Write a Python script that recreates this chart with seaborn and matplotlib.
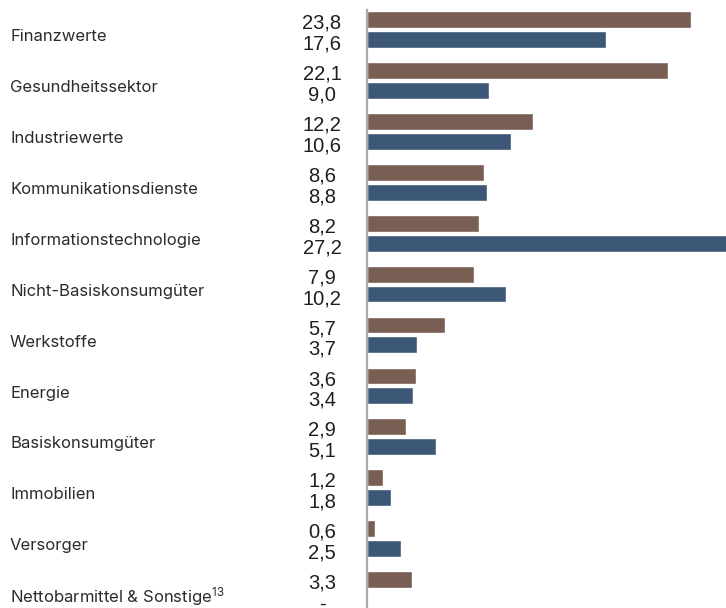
import numpy as np
import pandas as pd
import matplotlib.pyplot as plt
import matplotlib.transforms as mtransforms
import seaborn as sns

# sector weights (%), fund vs. benchmark
sectors = ['Finanzwerte', 'Gesundheitssektor', 'Industriewerte', 'Kommunikationsdienste',
           'Informationstechnologie', 'Nicht-Basiskonsumgüter', 'Werkstoffe', 'Energie',
           'Basiskonsumgüter', 'Immobilien', 'Versorger', 'Nettobarmittel & Sonstige']
fund = [23.8, 22.1, 12.2, 8.6, 8.2, 7.9, 5.7, 3.6, 2.9, 1.2, 0.6, 3.3]
index = [17.6, 9.0, 10.6, 8.8, 27.2, 10.2, 3.7, 3.4, 5.1, 1.8, 2.5, np.nan]
series = ['Fonds', 'Index']
colors = ['#7F5B4E', '#34577F']

df = pd.DataFrame({'sector': sectors * 2,
                   'value': fund + index,
                   'series': [series[0]] * len(sectors) + [series[1]] * len(sectors)})

sns.set_style('white')
plt.rcParams['mathtext.default'] = 'regular'
fig = plt.figure(figsize=(7.26, 6.08), dpi=100)
ax = fig.add_axes([367 / 726, 0, 1 - 367 / 726, 598 / 608])

sns.barplot(data=df, y='sector', x='value', hue='series', order=sectors,
            palette=colors, width=0.78, gap=0.15, orient='h', legend=False, ax=ax)

ax.set_xlim(0, 26.4)
ax.set_ylim(11.363, -0.383)
ax.set_xlabel('')
ax.set_ylabel('')
ax.set_xticks([])
ax.set_yticks([])
for side in ['top', 'right', 'bottom']:
    ax.spines[side].set_visible(False)
ax.spines['left'].set_color('#A3ABB5')
ax.spines['left'].set_linewidth(1.6)

trans = mtransforms.blended_transform_factory(fig.transFigure, ax.transData)

# category labels (sit a little below the group centre)
for i, name in enumerate(sectors):
    label = name + '$^{13}$' if name.startswith('Netto') else name
    ax.text(10 / 726, i + 0.14, label, transform=trans, ha='left', va='center',
            fontsize=12, color='#2B2B2B', family='Inter')

# value labels next to each bar (offset of each series from the category centre)
for container, vals in zip(ax.containers, [fund, index]):
    first = container[0]
    offset = (first.get_y() + first.get_height() / 2) * 1.05 + 0.08
    for i, v in enumerate(vals):
        txt = '-' if np.isnan(v) else f'{v:.1f}'.replace('.', ',')
        ax.text(322 / 726, i + offset, txt, transform=trans, ha='center', va='center',
                fontsize=14.5, color='#1E1E1E', family='Liberation Sans')

fig.savefig('out.png', dpi=100)
